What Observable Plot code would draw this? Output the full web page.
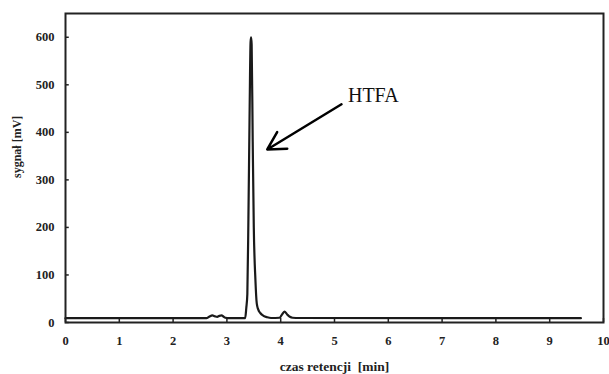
<!DOCTYPE html>
<html>
<head>
<meta charset="utf-8">
<script src="https://cdn.jsdelivr.net/npm/d3@7"></script>
<script src="https://cdn.jsdelivr.net/npm/@observablehq/plot@0.6"></script>
<style>
  html, body { margin: 0; padding: 0; background: #fff; }
  svg { display: block; }
</style>
</head>
<body>
<div id="chart"></div>
<script>
// Chromatogram: retention time [min] and signal [mV]
const time = [0, 2.62, 2.67, 2.73, 2.78, 2.82, 2.86, 2.9, 2.94, 2.97, 3.05, 3.34, 3.36, 3.38, 3.40, 3.42, 3.44, 3.45, 3.46, 3.48, 3.50, 3.53, 3.555, 3.58, 3.62, 3.68, 3.75, 3.82, 3.98, 4.02, 4.07, 4.12, 4.17, 4.22, 4.35, 9.58];
const signal = [9, 9, 12, 15, 13, 12, 14, 15, 12, 10, 9, 9, 30, 60, 220, 420, 590, 600, 585, 380, 200, 90, 40, 28, 20, 14, 11, 9.5, 10, 16, 23, 17, 12, 10, 9.5, 9];

const xTicks = [0, 1, 2, 3, 4, 5, 6, 7, 8, 9, 10];
const yTicks = [0, 100, 200, 300, 400, 500, 600];

// Annotation
const labelText = ["HTFA"];
const labelPos = [5.25, 478];
const arrowFrom = [5.13, 459];
const arrowTo = [3.75, 364];

const data = time.map((t, i) => ({t, s: signal[i]}));
const font = "'Liberation Serif', 'Times New Roman', serif";

const chart = Plot.plot({
  width: 609,
  height: 374,
  marginLeft: 65,
  marginRight: 6,
  marginTop: 13,
  marginBottom: 52,
  style: {fontFamily: font, background: "#fff"},
  x: {domain: [0, 10], label: null},
  y: {domain: [0, 650], label: null},
  marks: [
    Plot.axisX(xTicks, {tickSize: 0, tickPadding: 14, fontSize: 12.5, fontWeight: "bold", fill: "#222", label: null, tickFormat: d => String(d)}),
    Plot.axisY(yTicks, {tickSize: 0, tickPadding: 11, fontSize: 12.5, fontWeight: "bold", fill: "#222", label: null, tickFormat: d => String(d)}),
    Plot.ruleX(xTicks, {x: d => d, y1: 0, y2: 8.5, stroke: "#222", strokeWidth: 1.5}),
    Plot.ruleY(yTicks, {y: d => d, x1: 0, x2: 0.07, stroke: "#222", strokeWidth: 1.5}),
    Plot.line(data, {x: "t", y: "s", stroke: "#1a1a1a", strokeWidth: 2.2, curve: "monotone-x"}),
    Plot.frame({stroke: "#222", strokeWidth: 2}),
    Plot.arrow([0], {x1: () => arrowFrom[0], y1: () => arrowFrom[1], x2: () => arrowTo[0], y2: () => arrowTo[1], stroke: "#000", strokeWidth: 2.5, headLength: 12, headAngle: 58}),
    Plot.text(labelText, {x: () => labelPos[0], y: () => labelPos[1], text: d => d, textAnchor: "start", fontSize: 20, fill: "#111"}),
    Plot.text(["czas retencji  [min]"], {frameAnchor: "bottom", dy: 44, text: d => d, fontSize: 13.5, fontWeight: "bold", fill: "#222", lineAnchor: "middle"}),
    Plot.text(["sygnał [mV]"], {frameAnchor: "left", dx: -48, dy: 10, rotate: -90, text: d => d, fontSize: 12, fontWeight: "bold", fill: "#222", lineAnchor: "middle"})
  ]
});
chart.querySelectorAll("text").forEach(t => t.setAttribute("xml:space", "preserve"));
chart.style.whiteSpace = "pre";
document.getElementById("chart").append(chart);
</script>
</body>
</html>
